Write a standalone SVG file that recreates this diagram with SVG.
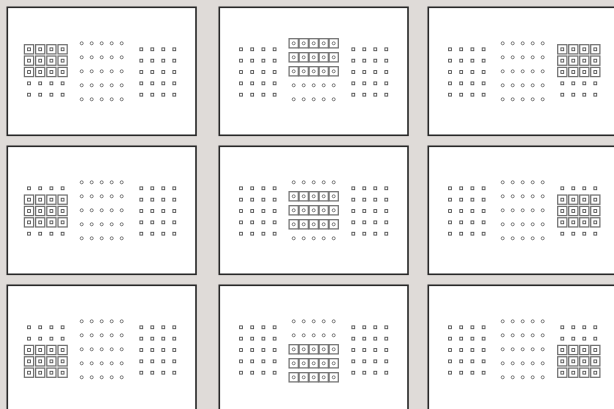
<svg xmlns="http://www.w3.org/2000/svg" xmlns:xlink="http://www.w3.org/1999/xlink" width="614" height="409" viewBox="0 0 614 409">
<style>
.frame{fill:#ffffff;stroke:#262626;stroke-width:1.6}
.sd{fill:#ffffff;stroke:#505050;stroke-width:0.9}
.md{fill:#ffffff;stroke:#767676;stroke-width:1}
.bx{fill:none;stroke:#727272;stroke-width:1.25}
</style>
<defs>
<rect id="sq" x="-1.4" y="-1.4" width="2.8" height="2.8" class="sd"/>
<circle id="cd" r="1.5" class="md"/>
<rect id="bx" x="-4.6" y="-4.6" width="9.2" height="9.2" class="bx"/>
<g id="rowL"><use xlink:href="#sq" x="21.7"/><use xlink:href="#sq" x="32.9"/><use xlink:href="#sq" x="44.1"/><use xlink:href="#sq" x="55.3"/></g>
<g id="rowR"><use xlink:href="#sq" x="134"/><use xlink:href="#sq" x="145"/><use xlink:href="#sq" x="156"/><use xlink:href="#sq" x="167"/></g>
<g id="rowM"><use xlink:href="#cd" x="74.4"/><use xlink:href="#cd" x="84.4"/><use xlink:href="#cd" x="94.4"/><use xlink:href="#cd" x="104.4"/><use xlink:href="#cd" x="114.4"/></g>
<g id="bxL"><use xlink:href="#bx" x="21.7"/><use xlink:href="#bx" x="32.9"/><use xlink:href="#bx" x="44.1"/><use xlink:href="#bx" x="55.3"/></g>
<g id="bxR"><use xlink:href="#bx" x="134"/><use xlink:href="#bx" x="145"/><use xlink:href="#bx" x="156"/><use xlink:href="#bx" x="167"/></g>
<g id="bxM"><use xlink:href="#bx" x="74.4"/><use xlink:href="#bx" x="84.4"/><use xlink:href="#bx" x="94.4"/><use xlink:href="#bx" x="104.4"/><use xlink:href="#bx" x="114.4"/></g>
<g id="base">
<rect class="frame" x="0" y="0" width="188.7" height="128"/>
<use xlink:href="#rowL" y="42"/><use xlink:href="#rowL" y="53.35"/><use xlink:href="#rowL" y="64.7"/><use xlink:href="#rowL" y="76.05"/><use xlink:href="#rowL" y="87.4"/>
<use xlink:href="#rowR" y="42"/><use xlink:href="#rowR" y="53.35"/><use xlink:href="#rowR" y="64.7"/><use xlink:href="#rowR" y="76.05"/><use xlink:href="#rowR" y="87.4"/>
<use xlink:href="#rowM" y="36"/><use xlink:href="#rowM" y="50"/><use xlink:href="#rowM" y="64"/><use xlink:href="#rowM" y="78"/><use xlink:href="#rowM" y="92"/>
</g>
</defs>
<rect width="614" height="409" fill="#dfdbd8"/>
<g id="panel-top-left" transform="translate(7.3,7.3)">
<use xlink:href="#base"/>
<use xlink:href="#bxL" y="42"/><use xlink:href="#bxL" y="53.35"/><use xlink:href="#bxL" y="64.7"/>
</g>
<g id="panel-top-center" transform="translate(219.3,7.3)">
<use xlink:href="#base"/>
<use xlink:href="#bxM" y="36"/><use xlink:href="#bxM" y="50"/><use xlink:href="#bxM" y="64"/>
</g>
<g id="panel-top-right" transform="translate(428.3,7.3)">
<use xlink:href="#base"/>
<use xlink:href="#bxR" y="42"/><use xlink:href="#bxR" y="53.35"/><use xlink:href="#bxR" y="64.7"/>
</g>
<g id="panel-mid-left" transform="translate(7.3,146.3)">
<use xlink:href="#base"/>
<use xlink:href="#bxL" y="53.35"/><use xlink:href="#bxL" y="64.7"/><use xlink:href="#bxL" y="76.05"/>
</g>
<g id="panel-mid-center" transform="translate(219.3,146.3)">
<use xlink:href="#base"/>
<use xlink:href="#bxM" y="50"/><use xlink:href="#bxM" y="64"/><use xlink:href="#bxM" y="78"/>
</g>
<g id="panel-mid-right" transform="translate(428.3,146.3)">
<use xlink:href="#base"/>
<use xlink:href="#bxR" y="53.35"/><use xlink:href="#bxR" y="64.7"/><use xlink:href="#bxR" y="76.05"/>
</g>
<g id="panel-bottom-left" transform="translate(7.3,285.3)">
<use xlink:href="#base"/>
<use xlink:href="#bxL" y="64.7"/><use xlink:href="#bxL" y="76.05"/><use xlink:href="#bxL" y="87.4"/>
</g>
<g id="panel-bottom-center" transform="translate(219.3,285.3)">
<use xlink:href="#base"/>
<use xlink:href="#bxM" y="64"/><use xlink:href="#bxM" y="78"/><use xlink:href="#bxM" y="92"/>
</g>
<g id="panel-bottom-right" transform="translate(428.3,285.3)">
<use xlink:href="#base"/>
<use xlink:href="#bxR" y="64.7"/><use xlink:href="#bxR" y="76.05"/><use xlink:href="#bxR" y="87.4"/>
</g>
</svg>
